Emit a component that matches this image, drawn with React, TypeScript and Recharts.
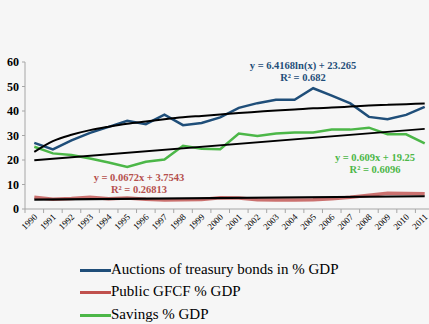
import React from "react";
import { LineChart, Line, XAxis, YAxis, Legend } from "recharts";

const years = [
  "1990", "1991", "1992", "1993", "1994", "1995", "1996", "1997", "1998", "1999", "2000",
  "2001", "2002", "2003", "2004", "2005", "2006", "2007", "2008", "2009", "2010", "2011",
];

const auctions = [27.0, 24.3, 28.0, 31.1, 33.5, 36.0, 34.6, 38.5, 34.2, 35.1, 37.4, 41.3, 43.2, 44.6, 44.6, 49.3, 46.3, 43.1, 37.6, 36.6, 38.4, 41.7];
const publicGfcf = [4.8, 4.0, 4.3, 4.8, 4.2, 4.5, 4.0, 3.7, 3.8, 3.9, 4.6, 4.5, 3.8, 3.7, 3.7, 3.8, 4.2, 4.8, 5.6, 6.4, 6.3, 6.2];
const savings = [25.4, 22.7, 22.0, 20.6, 19.0, 17.2, 19.3, 20.2, 25.8, 24.6, 24.4, 30.8, 29.8, 30.8, 31.2, 31.2, 32.4, 32.4, 33.2, 30.5, 30.5, 26.8];

// trend lines as shown on the chart
const auctionsTrend = [23.3, 27.7, 30.3, 32.2, 33.6, 34.8, 35.7, 36.6, 37.4, 38.0, 38.6, 39.2, 39.7, 40.2, 40.6, 41.1, 41.4, 41.8, 42.2, 42.5, 42.8, 43.1];
const savingsTrend = [19.9, 32.7];
const gfcfTrend = [3.8, 5.2];

const yTicks = [0, 10, 20, 30, 40, 50, 60];

const data = years.map((year, i) => ({
  year,
  pos: i + 0.5,
  auctions: auctions[i],
  gfcf: publicGfcf[i],
  savings: savings[i],
  auctionsTrend: auctionsTrend[i],
  savingsTrend: i === 0 ? savingsTrend[0] : i === years.length - 1 ? savingsTrend[1] : null,
  gfcfTrend: i === 0 ? gfcfTrend[0] : i === years.length - 1 ? gfcfTrend[1] : null,
}));

const boundaryTicks = years.map((_, i) => i).concat([years.length]);

const WIDTH = 440;
const HEIGHT = 324;
const MARGIN = { top: 62, right: 6, bottom: 85, left: 0 };
const Y_WIDTH = 25;
const HALF_BAND = (WIDTH - MARGIN.right - MARGIN.left - Y_WIDTH) / years.length / 2;

const serif = "'Liberation Serif', 'Times New Roman', serif";

const YearTick = ({ x, y, payload }: any) => {
  const label = years[payload.value];
  if (!label) return null;
  const tx = x + HALF_BAND - 1;
  const ty = y - 2;
  return (
    <text
      x={tx}
      y={ty}
      transform={`rotate(-45, ${tx}, ${ty})`}
      textAnchor="end"
      dominantBaseline="hanging"
      fontSize={9}
      fontFamily={serif}
      fill="#000"
    >
      {label}
    </text>
  );
};

const YTick = ({ x, y, payload }: any) => (
  <text
    x={x}
    y={y}
    textAnchor="end"
    dominantBaseline="central"
    fontSize={12}
    fontWeight="bold"
    fontFamily={serif}
    fill="#000"
  >
    {payload.value}
  </text>
);

const LegendContent = ({ payload }: any) => (
  <div style={{ fontFamily: serif, fontSize: 15, lineHeight: "15px", color: "#000" }}>
    {(payload || []).map((entry: any) => (
      <div key={entry.value} style={{ display: "flex", alignItems: "center", height: 22.5, whiteSpace: "nowrap" }}>
        <span style={{ display: "inline-block", width: 31, height: 3, background: entry.color }} />
        <span style={{ position: "relative", top: -1 }}>{entry.value}</span>
      </div>
    ))}
  </div>
);

const eqStyle: React.CSSProperties = {
  position: "absolute",
  fontFamily: serif,
  fontWeight: "bold",
  fontSize: 10.5,
  lineHeight: "12px",
  textAlign: "center",
  transform: "translateX(-50%)",
  whiteSpace: "nowrap",
};

export default function App() {
  return (
    <div
      style={{
        position: "fixed",
        top: 0,
        left: 0,
        width: 429,
        height: HEIGHT,
        overflow: "hidden",
        background: "#f6f6f6",
        fontFamily: serif,
      }}
    >
      <LineChart width={WIDTH} height={HEIGHT} data={data} margin={MARGIN}>
        <XAxis
          dataKey="pos"
          type="number"
          domain={[0, years.length]}
          ticks={boundaryTicks}
          interval={0}
          height={30}
          tick={<YearTick />}
          tickSize={4}
          tickMargin={2}
          axisLine={{ stroke: "#a6a6a6" }}
          tickLine={{ stroke: "#a6a6a6" }}
        />
        <YAxis
          domain={[0, 60]}
          ticks={yTicks}
          width={Y_WIDTH}
          tickSize={3}
          tickMargin={3}
          axisLine={{ stroke: "#a6a6a6" }}
          tickLine={{ stroke: "#a6a6a6" }}
          tick={<YTick />}
        />
        <Legend
          layout="vertical"
          align="center"
          verticalAlign="middle"
          wrapperStyle={{ top: 259, left: 80, width: 330 }}
          content={<LegendContent />}
        />
        <Line
          dataKey="auctions"
          name="Auctions of treasury bonds in % GDP"
          stroke="#1f4e79"
          strokeWidth={2.5}
          dot={false}
          isAnimationActive={false}
        />
        <Line
          dataKey="gfcf"
          name="Public GFCF % GDP"
          stroke="#c0504d"
          strokeWidth={3.5}
          strokeOpacity={0.8}
          dot={false}
          isAnimationActive={false}
        />
        <Line
          dataKey="savings"
          name="Savings % GDP"
          stroke="#4cb748"
          strokeWidth={2.5}
          dot={false}
          isAnimationActive={false}
        />
        <Line
          dataKey="auctionsTrend"
          stroke="#000"
          strokeWidth={2}
          dot={false}
          type="monotone"
          legendType="none"
          isAnimationActive={false}
        />
        <Line
          dataKey="savingsTrend"
          stroke="#000"
          strokeWidth={1.8}
          dot={false}
          connectNulls
          legendType="none"
          isAnimationActive={false}
        />
        <Line
          dataKey="gfcfTrend"
          stroke="#000"
          strokeWidth={2.2}
          dot={false}
          connectNulls
          legendType="none"
          isAnimationActive={false}
        />
      </LineChart>
      <div style={{ ...eqStyle, left: 303, top: 60, color: "#1f4e79" }}>
        y = 6.4168ln(x) + 23.265
        <br />
        R² = 0.682
      </div>
      <div style={{ ...eqStyle, left: 375, top: 152, color: "#4cb748" }}>
        y = 0.609x + 19.25
        <br />
        R² = 0.6096
      </div>
      <div style={{ ...eqStyle, left: 139, top: 172, color: "#b5504d" }}>
        y = 0.0672x + 3.7543
        <br />
        R² = 0.26813
      </div>
    </div>
  );
}
